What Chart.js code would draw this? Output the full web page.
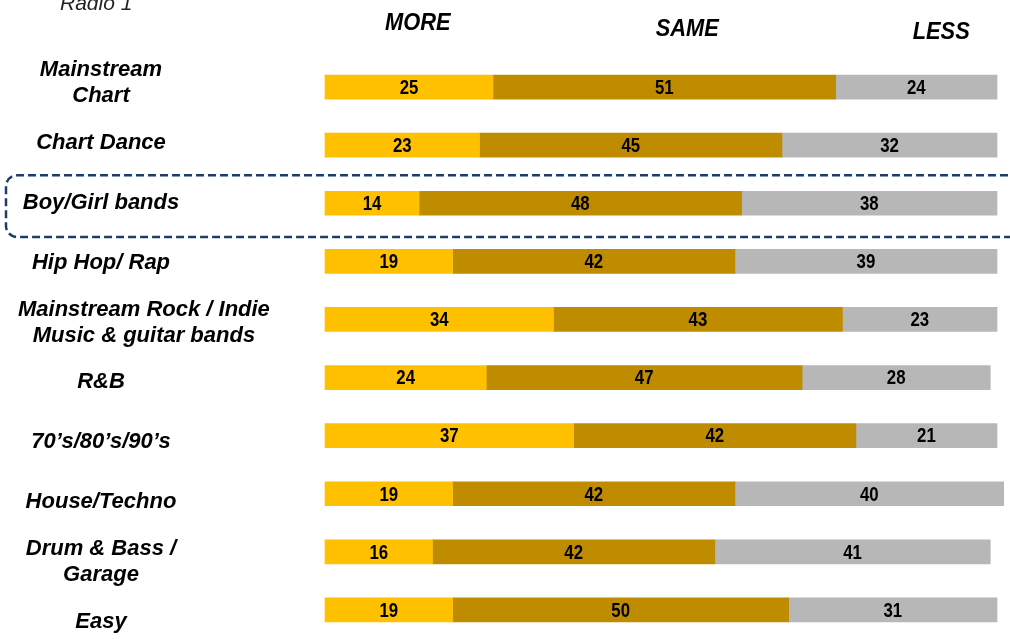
<!DOCTYPE html>
<html>
<head>
<meta charset="utf-8">
<script src="https://cdn.jsdelivr.net/npm/chart.js@4/dist/chart.umd.min.js"></script>
<style>
  html, body { margin: 0; padding: 0; background: #ffffff; }
  #wrap { width: 1010px; height: 639px; position: relative; }
</style>
</head>
<body>
<div id="wrap"><canvas id="chart" width="1010" height="639"></canvas></div>
<script>
// Music genres rated by Radio 1 listeners: want more / the same / less
const genres = [
  ['Mainstream', 'Chart'],
  'Chart Dance',
  'Boy/Girl bands',
  'Hip Hop/ Rap',
  ['Mainstream Rock / Indie', 'Music & guitar bands'],
  'R&B',
  '70\u2019s/80\u2019s/90\u2019s',
  'House/Techno',
  ['Drum & Bass /', 'Garage'],
  'Easy'
];
const seriesNames = ['MORE', 'SAME', 'LESS'];
const moreValues = [25, 23, 14, 19, 34, 24, 37, 19, 16, 19];
const sameValues = [51, 45, 48, 42, 43, 47, 42, 42, 42, 50];
const lessValues = [24, 32, 38, 39, 23, 28, 21, 40, 41, 31];
const stationName = 'Radio 1';
const highlightedGenre = 2;

// layout / styling
const colours = ['#FFC000', '#BF8C00', '#B7B7B7'];
const headerAt = [13.8, 53.9, 91.7];   // x-axis value under each column heading
const headerY = [24, 30, 33];
const labelFont = 'italic bold 22px "Liberation Sans", Arial, sans-serif';
const numberFont = 'bold 21px "Liberation Sans", Arial, sans-serif';
const headerFont = 'italic bold 23px "Liberation Sans", Arial, sans-serif';
const labelRowStart = 0.432;  // genre label rows, in category-band units
const labelRowStep = 1.030;

const seriesValues = [moreValues, sameValues, lessValues];

// draw text squeezed horizontally (condensed look)
function condensedText(ctx, text, x, y, squeeze) {
  ctx.save();
  ctx.translate(x, y);
  ctx.scale(squeeze, 1);
  ctx.fillText(text, 0, 0);
  ctx.restore();
}

const decorPlugin = {
  id: 'decor',
  afterDatasetsDraw(chart) {
    const ctx = chart.ctx;
    ctx.save();
    ctx.font = numberFont;
    ctx.fillStyle = '#000000';
    ctx.textAlign = 'center';
    ctx.textBaseline = 'middle';
    chart.data.datasets.forEach((ds, di) => {
      const meta = chart.getDatasetMeta(di);
      meta.data.forEach((bar, i) => {
        const cx = (bar.x + bar.base) / 2;
        condensedText(ctx, String(ds.data[i]), cx, bar.y + 1, 0.8);
      });
    });
    ctx.restore();
  },
  afterDraw(chart) {
    const ctx = chart.ctx;
    const xs = chart.scales.x;
    const ys = chart.scales.y;
    ctx.save();

    // station name, top left
    ctx.font = 'italic 21px "Liberation Sans", Arial, sans-serif';
    ctx.fillStyle = '#222222';
    ctx.textAlign = 'left';
    ctx.textBaseline = 'alphabetic';
    ctx.fillText(stationName, 60, 10);

    // column headings
    ctx.font = headerFont;
    ctx.fillStyle = '#000000';
    ctx.textAlign = 'center';
    ctx.textBaseline = 'middle';
    seriesNames.forEach((name, i) => {
      condensedText(ctx, name, xs.getPixelForValue(headerAt[i]), headerY[i], 0.95);
    });

    // genre labels
    ctx.font = labelFont;
    const band = ys.height / chart.data.labels.length;
    const lineH = 26;
    chart.data.labels.forEach((lab, i) => {
      const lines = Array.isArray(lab) ? lab : [lab];
      const widest = Math.max(...lines.map(l => ctx.measureText(l).width));
      const cx = Math.max(101, widest / 2 + 18);
      const cy = ys.top + band * (labelRowStart + i * labelRowStep);
      lines.forEach((l, k) => {
        ctx.fillText(l, cx, cy + (k - (lines.length - 1) / 2) * lineH);
      });
    });

    // dashed highlight box round one genre row
    const c = ys.getPixelForValue(highlightedGenre);
    const top = c - 0.48 * band;
    const bottom = c + 0.58 * band;
    const left = 6;
    const right = chart.width + 10;
    const r = 11;
    ctx.beginPath();
    ctx.moveTo(right, top);
    ctx.lineTo(left + r, top);
    ctx.arcTo(left, top, left, top + r, r);
    ctx.lineTo(left, bottom - r);
    ctx.arcTo(left, bottom, left + r, bottom, r);
    ctx.lineTo(right, bottom);
    ctx.setLineDash([8, 4]);
    ctx.lineWidth = 2.5;
    ctx.strokeStyle = '#1F3D6B';
    ctx.stroke();
    ctx.restore();
  }
};

new Chart(document.getElementById('chart'), {
  type: 'bar',
  data: {
    labels: genres,
    datasets: seriesNames.map((name, i) => ({
      label: name,
      data: seriesValues[i],
      backgroundColor: colours[i],
      borderWidth: 0,
      barThickness: 24,
      clip: false
    }))
  },
  options: {
    indexAxis: 'y',
    responsive: false,
    animation: false,
    events: [],
    layout: { padding: { left: 325, right: 13, top: 58, bottom: 0 } },
    scales: {
      x: { type: 'linear', min: 0, max: 100, stacked: true, display: false },
      y: { type: 'category', stacked: true, display: false }
    },
    plugins: {
      legend: { display: false },
      tooltip: { enabled: false }
    }
  },
  plugins: [decorPlugin]
});
</script>
</body>
</html>
